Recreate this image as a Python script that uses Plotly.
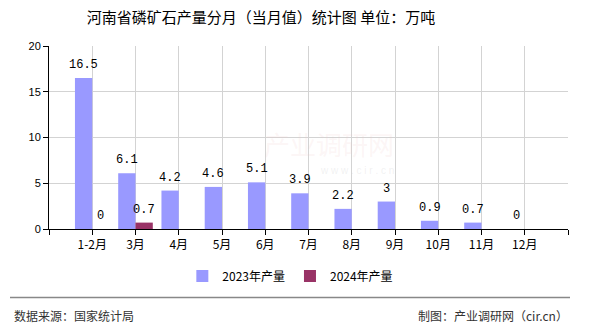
import plotly.graph_objects as go

categories = ["1-2月", "3月", "4月", "5月", "6月", "7月", "8月", "9月", "10月", "11月", "12月"]
values_2023 = [16.5, 6.1, 4.2, 4.6, 5.1, 3.9, 2.2, 3, 0.9, 0.7, 0]
values_2024 = [0, 0.7]
y_ticks = [0, 5, 10, 15, 20]

series_names = ["2023年产量", "2024年产量"]
colors = ["#9999FF", "#993366"]

idx = list(range(len(categories)))
bw = 0.4

fig = go.Figure()
fig.add_trace(go.Bar(x=idx, y=values_2023, name=series_names[0], marker_color=colors[0],
                     width=bw, offset=-bw, marker_line_width=0))
fig.add_trace(go.Bar(x=idx[:len(values_2024)], y=values_2024, name=series_names[1], marker_color=colors[1],
                     width=bw, offset=0, marker_line_width=0))

label_font = dict(family="Liberation Mono, DejaVu Sans Mono, monospace", size=12, color="#000")
for i, v in enumerate(values_2023):
    fig.add_annotation(x=i - bw / 2, y=v, text=str(v), showarrow=False, yanchor="bottom",
                       yshift=4, font=label_font)
for i, v in enumerate(values_2024):
    fig.add_annotation(x=i + bw / 2, y=v, text=str(v), showarrow=False, yanchor="bottom",
                       yshift=4, font=label_font)

# faint watermark
fig.add_annotation(x=(396 - 49) / 519, y=(229 - 143) / 183, xref="paper", yref="paper", text="产业调研网",
                   showarrow=False, font=dict(family="Noto Sans CJK SC", size=26, color="rgba(240,200,200,0.18)"))
fig.add_annotation(x=(396 - 49) / 519, y=(229 - 178) / 183, xref="paper", yref="paper", text="w w w . c i r . c n",
                   showarrow=False, font=dict(family="Liberation Sans", size=10, color="rgba(200,200,200,0.25)"))

fig.update_layout(
    width=590, height=330,
    margin=dict(l=49, r=22, t=46, b=101),
    paper_bgcolor="white", plot_bgcolor="white",
    barmode="overlay",
    showlegend=True,
    legend=dict(orientation="h", x=0.465, xanchor="center", y=-0.257, yanchor="middle",
                font=dict(family="Noto Sans CJK SC", size=12, color="#000"),
                itemclick=False, traceorder="normal"),
    title=dict(text="河南省磷矿石产量分月（当月值）统计图 单位：万吨", x=261 / 590, xanchor="center",
               y=1 - 18 / 330, yanchor="middle",
               font=dict(family="Noto Sans CJK SC", size=15, color="#000")),
    font=dict(family="Noto Sans CJK SC", size=12, color="#000"),
)

fig.update_xaxes(
    range=[-1, len(categories)],
    tickvals=[-1] + idx + [len(categories)],
    ticktext=[""] + categories + [""],
    showgrid=True, gridcolor="#d3d3d3", gridwidth=1,
    showline=True, linecolor="#000", linewidth=1,
    ticks="outside", ticklen=5, tickcolor="#000",
    tickfont=dict(family="Noto Sans CJK SC", size=12, color="#000"),
    zeroline=False,
)
fig.update_yaxes(
    range=[0, 20],
    tickvals=y_ticks,
    showgrid=True, gridcolor="#d3d3d3", gridwidth=1,
    showline=True, linecolor="#000", linewidth=1,
    ticks="outside", ticklen=5, tickcolor="#000",
    tickfont=dict(family="Liberation Sans", size=11, color="#000"),
    zeroline=False,
)

# footer separator line and texts
fig.add_shape(type="line", xref="paper", yref="paper",
              x0=(10 - 49) / 519, x1=(570 - 49) / 519,
              y0=(229 - 297.5) / 183, y1=(229 - 297.5) / 183,
              line=dict(color="#888", width=1.5))
fig.add_annotation(xref="paper", yref="paper", x=(12 - 49) / 519, y=(229 - 315) / 183,
                   xanchor="left", yanchor="middle", showarrow=False, text="数据来源：国家统计局",
                   font=dict(family="Noto Sans CJK SC", size=12, color="#333"))
fig.add_annotation(xref="paper", yref="paper", x=(570 - 49) / 519, y=(229 - 315) / 183,
                   xanchor="right", yanchor="middle", showarrow=False, text="制图：产业调研网（cir.cn）",
                   font=dict(family="Noto Sans CJK SC", size=12, color="#333"))

fig.write_html("out.html")
